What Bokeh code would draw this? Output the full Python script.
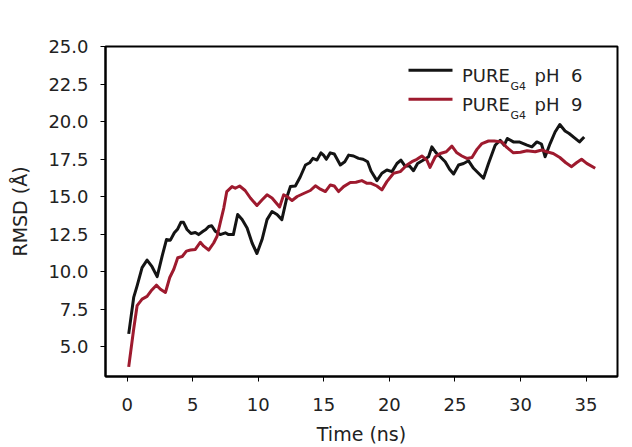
from bokeh.plotting import figure
from bokeh.models import Range1d, FixedTicker, PrintfTickFormatter, Label, Arrow
from bokeh.embed import file_html
from bokeh.resources import INLINE

# ---- data ----
t_ph6 = [0.12, 0.5, 0.76, 1.14, 1.52, 1.9, 2.29, 2.67, 3.0, 3.3, 3.6, 3.86, 4.1, 4.3, 4.57, 4.87,
         5.2, 5.45, 5.79, 6.0, 6.22, 6.45, 6.73, 7.1, 7.49, 7.74, 8.1, 8.43, 8.77, 9.15, 9.53, 9.9,
         10.29, 10.67, 11.05, 11.43, 11.8, 12.2, 12.45, 12.83, 13.2, 13.6, 13.92, 14.17, 14.48,
         14.78, 14.98, 15.19, 15.49, 15.8, 16.26, 16.6, 16.9, 17.27, 17.65, 18.0, 18.34, 18.6,
         19.05, 19.43, 19.81, 20.2, 20.58, 20.88, 21.2, 21.54, 21.84, 22.15, 22.6, 22.99, 23.24,
         23.57, 23.88, 24.26, 24.59, 24.9, 25.28, 25.66, 26.04, 26.42, 26.8, 27.18, 27.56, 28.07,
         28.45, 28.76, 29.0, 29.46, 29.9, 30.5, 30.87, 31.25, 31.6, 31.88, 32.26, 32.64, 33.0,
         33.4, 33.71, 34.17, 34.5, 34.86]
rmsd_ph6 = [5.84, 8.27, 9.04, 10.26, 10.76, 10.32, 9.66, 11.03, 12.13, 12.09, 12.58, 12.84, 13.28,
            13.28, 12.8, 12.53, 12.6, 12.46, 12.68, 12.8, 13.0, 13.05, 12.68, 12.46, 12.58, 12.46,
            12.46, 13.8, 13.46, 12.9, 11.9, 11.2, 12.13, 13.46, 14.0, 13.8, 13.46, 15.0, 15.66,
            15.7, 16.3, 17.1, 17.25, 17.54, 17.43, 17.91, 17.76, 17.48, 17.91, 17.83, 17.1, 17.32,
            17.76, 17.7, 17.54, 17.48, 17.32, 16.7, 16.06, 16.55, 16.77, 16.66, 17.2, 17.43, 17.03,
            17.03, 16.72, 17.2, 17.43, 17.65, 18.31, 17.91, 17.65, 17.32, 16.82, 16.5, 17.1, 17.2,
            17.38, 16.88, 16.55, 16.22, 17.2, 18.42, 18.75, 18.42, 18.87, 18.64, 18.64, 18.42,
            18.31, 18.64, 18.5, 17.65, 18.53, 19.3, 19.8, 19.37, 19.2, 18.87, 18.64, 18.97]

t_ph9 = [0.12, 0.5, 0.76, 1.14, 1.52, 1.83, 2.23, 2.54, 2.92, 3.25, 3.56, 3.86, 4.2, 4.52, 4.83,
         5.2, 5.58, 5.84, 6.22, 6.6, 6.86, 7.1, 7.37, 7.6, 8.0, 8.25, 8.58, 9.0, 9.4, 9.9, 10.3,
         10.67, 11.05, 11.63, 11.94, 12.2, 12.58, 12.97, 13.46, 13.97, 14.36, 14.74, 15.12, 15.5,
         15.8, 16.13, 16.51, 17.02, 17.45, 17.9, 18.3, 18.6, 19.05, 19.43, 19.81, 20.32, 20.83,
         21.34, 21.72, 22.1, 22.48, 22.86, 23.1, 23.5, 23.88, 24.34, 24.77, 25.15, 25.53, 25.91,
         26.3, 26.68, 27.06, 27.56, 28.0, 28.58, 28.96, 29.46, 30.0, 30.5, 31.12, 31.63, 32.0,
         32.5, 33.0, 33.46, 33.9, 34.27, 34.66, 35.05, 35.7]
rmsd_ph9 = [3.64, 6.17, 7.72, 8.16, 8.34, 8.71, 9.09, 8.82, 8.6, 9.6, 10.15, 10.92, 11.0, 11.36,
            11.43, 11.47, 11.95, 11.69, 11.43, 11.9, 12.35, 13.24, 14.23, 15.33, 15.66, 15.55,
            15.7, 15.4, 14.9, 14.4, 14.78, 15.11, 14.9, 14.3, 15.11, 15.0, 14.73, 15.0, 15.2,
            15.4, 15.71, 15.49, 15.33, 15.77, 15.7, 15.33, 15.66, 15.93, 15.95, 16.06, 15.88,
            15.88, 15.7, 15.44, 15.99, 16.55, 16.66, 17.1, 17.32, 17.48, 17.7, 17.43, 16.94,
            17.65, 17.87, 17.98, 18.36, 17.91, 17.7, 17.54, 17.6, 18.14, 18.53, 18.7, 18.7,
            18.64, 18.27, 17.91, 17.95, 18.05, 17.98, 18.1, 17.98, 17.87, 17.6, 17.25, 16.99,
            17.25, 17.48, 17.21, 16.88]

x_ticks = [0, 5, 10, 15, 20, 25, 30, 35]
y_ticks = [5.0, 7.5, 10.0, 12.5, 15.0, 17.5, 20.0, 22.5, 25.0]
series_names = ["PURE", "PURE"]
series_subs = ["G4", "G4"]
series_ph = ["pH\u00a0\u00a06", "pH\u00a0\u00a09"]

BLACK = "#141414"
RED = "#9e1a2e"
FONT = "DejaVu Sans"

p = figure(width=632, height=447, output_backend="svg", toolbar_location=None,
           x_range=Range1d(-1.65, 37.4), y_range=Range1d(3.0, 25.0))
p.min_border_left = 105
p.min_border_right = 15
p.min_border_top = 46
p.min_border_bottom = 69
p.background_fill_color = "white"
p.border_fill_color = "white"
p.outline_line_color = "black"
p.outline_line_width = 2
p.xgrid.visible = False
p.ygrid.visible = False

p.line(t_ph6, rmsd_ph6, line_color=BLACK, line_width=3, line_join="round")
p.line(t_ph9, rmsd_ph9, line_color=RED, line_width=3, line_join="round")

for ax in (p.xaxis[0], p.yaxis[0]):
    ax.axis_line_color = "black"
    ax.axis_line_width = 2
    ax.major_tick_line_color = "black"
    ax.major_tick_line_width = 1
    ax.major_tick_out = 5
    ax.major_tick_in = 0
    ax.minor_tick_line_color = None
    ax.major_label_text_font = FONT
    ax.major_label_text_font_size = "18px"
    ax.major_label_text_color = "#222222"
    ax.axis_label_text_font = FONT
    ax.axis_label_text_font_size = "19px"
    ax.axis_label_text_font_style = "normal"
    ax.axis_label_text_color = "#222222"

p.xaxis.ticker = FixedTicker(ticks=x_ticks)
p.yaxis.ticker = FixedTicker(ticks=y_ticks)
p.yaxis.formatter = PrintfTickFormatter(format="%.1f")
p.xaxis.axis_label = "Time (ns)"
p.yaxis.axis_label = "RMSD (Å)"
p.xaxis.major_label_standoff = 16
p.yaxis.major_label_standoff = 12
p.xaxis.axis_label_standoff = 9
p.yaxis.axis_label_standoff = 14

# ---- manual legend (subscript text) ----
row_gap = 29
colors = [BLACK, RED]
for i in range(2):
    ly = 306.3 - i * row_gap
    p.add_layout(Arrow(end=None, x_start=303, y_start=ly, x_end=347, y_end=ly,
                       start_units="screen", end_units="screen",
                       line_color=colors[i], line_width=3))
    base = ly - 5.5
    p.add_layout(Label(x=356.5, y=base, x_units="screen", y_units="screen",
                       text=series_names[i], text_font=FONT, text_font_size="18px",
                       text_baseline="alphabetic", text_color="#222222"))
    p.add_layout(Label(x=405, y=base - 10.5, x_units="screen", y_units="screen",
                       text=series_subs[i], text_font=FONT, text_font_size="11px",
                       text_baseline="alphabetic", text_color="#222222"))
    p.add_layout(Label(x=429, y=base, x_units="screen", y_units="screen",
                       text=series_ph[i], text_font=FONT, text_font_size="18px",
                       text_baseline="alphabetic", text_color="#222222"))

open("out.html", "w").write(file_html(p, INLINE))
